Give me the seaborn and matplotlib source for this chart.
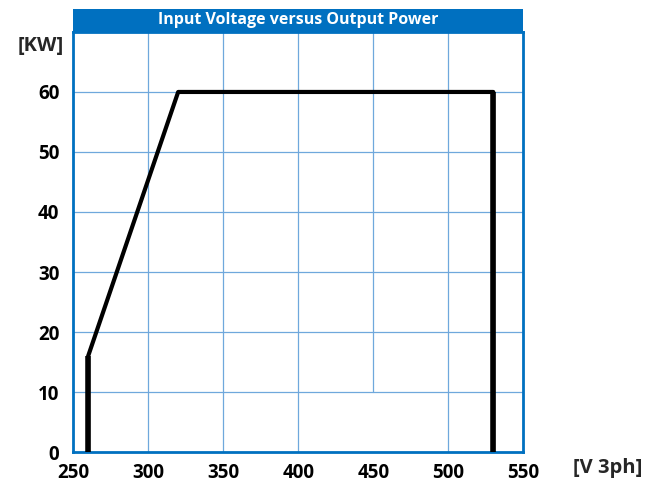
import pandas as pd
import matplotlib.pyplot as plt
import seaborn as sns
from matplotlib.patches import Rectangle

# curve of output power vs input voltage
voltage = [260, 260, 320, 530, 530]
power = [0, 16, 60, 60, 0]
x_ticks = [250, 300, 350, 400, 450, 500, 550]
y_ticks = [0, 10, 20, 30, 40, 50, 60]
title = 'Input Voltage versus Output Power'

sns.set_style('white')
plt.rcParams['font.family'] = ['Open Sans', 'DejaVu Sans']

blue = '#0070C0'
grid_blue = '#6FA8DC'

fig = plt.figure(figsize=(6.59, 4.84), dpi=100)
ax = fig.add_axes([0.111, 0.066, 0.683, 0.868])

# grid drawn by hand (the 450 line stops at 10 kW in the original)
for y in y_ticks[1:]:
    ax.axhline(y, color=grid_blue, lw=0.9, zorder=1)
for x in x_ticks[1:-1]:
    ymin = 10 / 70 if x == 450 else 0
    ax.axvline(x, ymin=ymin, color=grid_blue, lw=0.9, zorder=1)

df = pd.DataFrame({'V': voltage, 'P': power})
sns.lineplot(data=df, x='V', y='P', sort=False, estimator=None, color='black',
             lw=3, ax=ax, zorder=3)
# the vertical limits are drawn a bit heavier
ax.plot(voltage[:2], power[:2], color='black', lw=4, zorder=3, solid_capstyle='butt')
ax.plot(voltage[3:], power[3:], color='black', lw=4, zorder=3, solid_capstyle='butt')

ax.set_xlim(250, 550)
ax.set_ylim(0, 70)
ax.set_xticks(x_ticks)
ax.set_yticks(y_ticks)
ax.set_xlabel('')
ax.set_ylabel('')
ax.tick_params(length=0, labelsize=13.5, labelcolor='black')
ax.tick_params(axis='x', pad=8)
ax.tick_params(axis='y', pad=10)
for lab in ax.get_xticklabels() + ax.get_yticklabels():
    lab.set_fontweight('bold')

for s in ax.spines.values():
    s.set_color(blue)
    s.set_linewidth(2)
    s.set_visible(True)

# title bar
bar = Rectangle((0.111, 0.934), 0.683, 0.048, transform=fig.transFigure,
                facecolor=blue, edgecolor='none')
fig.patches.append(bar)
fig.text(0.4525, 0.958, title, color='white', fontsize=11.5, fontweight='bold',
         ha='center', va='center')

fig.text(0.026, 0.905, '[KW]', fontsize=14.5, fontweight='bold', ha='left', va='center')
fig.text(0.870, 0.033, '[V 3ph]', fontsize=14.5, fontweight='bold', ha='left', va='center')

fig.savefig('out.png', dpi=100)
